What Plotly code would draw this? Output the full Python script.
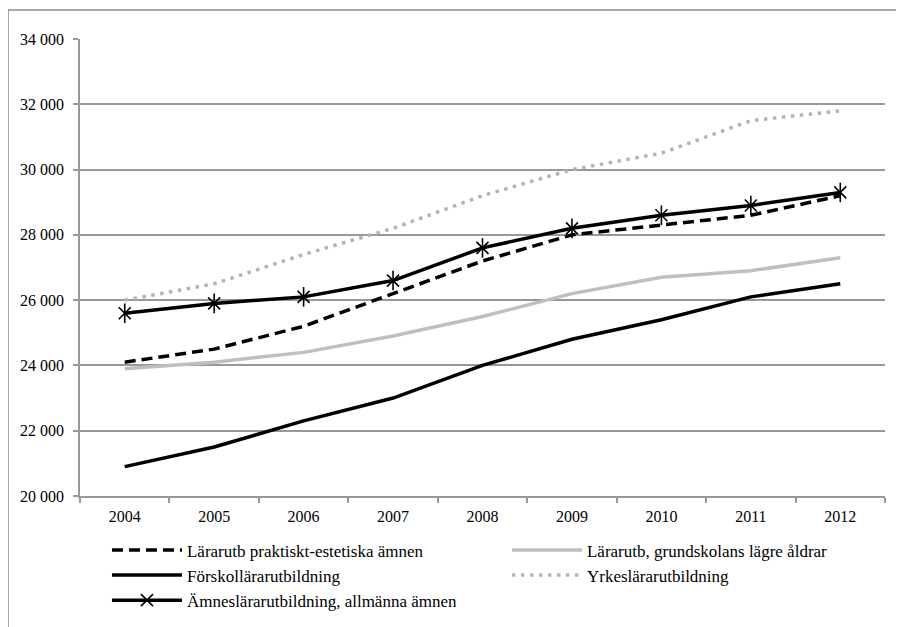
import plotly.graph_objects as go

years = ["2004", "2005", "2006", "2007", "2008", "2009", "2010", "2011", "2012"]

praktiskt_estetiska = [24100, 24500, 25200, 26200, 27200, 28000, 28300, 28600, 29200]
grundskolans_lagre = [23900, 24100, 24400, 24900, 25500, 26200, 26700, 26900, 27300]
forskollarar = [20900, 21500, 22300, 23000, 24000, 24800, 25400, 26100, 26500]
yrkeslarar = [26000, 26500, 27400, 28200, 29200, 30000, 30500, 31500, 31800]
amneslarar = [25600, 25900, 26100, 26600, 27600, 28200, 28600, 28900, 29300]

names = [
    "Lärarutb praktiskt-estetiska ämnen",
    "Lärarutb, grundskolans lägre åldrar",
    "Förskollärarutbildning",
    "Yrkeslärarutbildning",
    "Ämneslärarutbildning, allmänna ämnen",
]

y_tickvals = [20000, 22000, 24000, 26000, 28000, 30000, 32000, 34000]
y_ticktext = ["20 000", "22 000", "24 000", "26 000", "28 000", "30 000", "32 000", "34 000"]

FONT = "Liberation Serif"
GRID = "#989898"

fig = go.Figure()

fig.add_trace(go.Scatter(x=years, y=praktiskt_estetiska, name=names[0], mode="lines",
                         line=dict(color="black", width=3.5, dash="11px,6px")))
fig.add_trace(go.Scatter(x=years, y=grundskolans_lagre, name=names[1], mode="lines",
                         line=dict(color="#bfbfbf", width=3.5)))
fig.add_trace(go.Scatter(x=years, y=forskollarar, name=names[2], mode="lines",
                         line=dict(color="black", width=3.5)))
fig.add_trace(go.Scatter(x=years, y=yrkeslarar, name=names[3], mode="lines",
                         line=dict(color="#b4b4b4", width=3.5, dash="3.5px,5.5px")))
fig.add_trace(go.Scatter(x=years, y=amneslarar, name=names[4], mode="lines+markers",
                         line=dict(color="black", width=3.5),
                         marker=dict(symbol="x-thin-open", size=12, color="black",
                                     line=dict(color="black", width=1.6))))
fig.add_trace(go.Scatter(x=years, y=amneslarar, name=names[4], mode="markers", showlegend=False,
                         marker=dict(symbol="line-ns-open", size=14, color="black",
                                     line=dict(color="black", width=1.6))))

fig.update_layout(
    width=896, height=619,
    margin=dict(l=72, r=19, t=31, b=131, autoexpand=False),
    paper_bgcolor="white", plot_bgcolor="white",
    font=dict(family=FONT, size=16, color="black"),
    showlegend=True,
    legend=dict(orientation="h", x=0.0335, xanchor="left", y=-0.0797, yanchor="top",
                entrywidth=315, font=dict(family=FONT, size=17, color="black"),
                itemwidth=70, bgcolor="rgba(0,0,0,0)"),
    xaxis=dict(type="category", range=[-0.5, 8.5], showgrid=False, automargin=False,
               showline=True, linecolor=GRID, linewidth=1.5,
               ticks="outside", tickson="boundaries", ticklen=5, tickcolor=GRID, tickwidth=1.5,
               ticklabelstandoff=5,
               tickfont=dict(family=FONT, size=16, color="black")),
    yaxis=dict(range=[20000, 34000], tickvals=y_tickvals, ticktext=y_ticktext, automargin=False,
               showgrid=True, gridcolor=GRID, gridwidth=1.5, zeroline=False,
               showline=True, linecolor=GRID, linewidth=1.5,
               ticks="outside", ticklen=5, tickcolor=GRID, tickwidth=1.5,
               ticklabelstandoff=6,
               tickfont=dict(family=FONT, size=16, color="black")),
    shapes=[
        dict(type="line", xref="paper", yref="paper", x0=-0.0894, x1=1.03, y0=1.0635, y1=1.0635,
             line=dict(color="#8c8c8c", width=1.5)),
        dict(type="line", xref="paper", yref="paper", x0=-0.0894, x1=-0.0894, y0=1.0635, y1=-0.3,
             line=dict(color="#8c8c8c", width=1.5)),
    ],
)

fig.write_html("out.html")
